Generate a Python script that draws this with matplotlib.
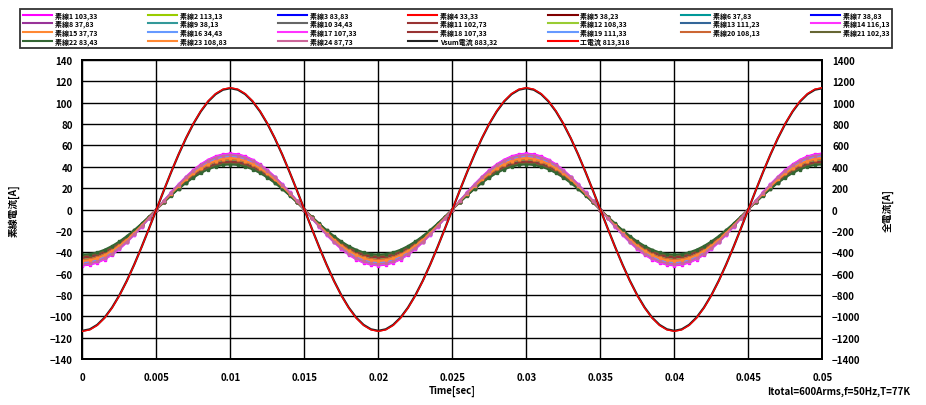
import numpy as np
import matplotlib
matplotlib.use('Agg')
import matplotlib.pyplot as plt
from matplotlib.ticker import MultipleLocator

plt.rcParams['font.family'] = ['Noto Sans CJK JP', 'DejaVu Sans']
plt.rcParams['font.weight'] = 'bold'

# legend labels, in row order as they appear in the reference
strand_labels = [
    '素線1 103,33', '素線2 113,13', '素線3 83,83', '素線4 33,33', '素線5 38,23',
    '素線6 37,83', '素線7 38,83', '素線8 37,83', '素線9 38,13', '素線10 34,43',
    '素線11 102,73', '素線12 108,33', '素線13 111,23', '素線14 116,13',
    '素線15 37,73', '素線16 34,43', '素線17 107,33', '素線18 107,33',
    '素線19 111,33', '素線20 108,13', '素線21 102,33', '素線22 83,43',
    '素線23 108,83', '素線24 87,73',
]
strand_colors = [
    '#ff00ff', '#99cc00', '#0000ff', '#ff0000', '#800000', '#009999', '#0000ff',
    '#993399', '#339999', '#666666', '#993333', '#99cc33', '#336699', '#ff33ff',
    '#ff8833', '#6699ff', '#ff33ff', '#993333', '#6699ff', '#cc6633', '#666633',
    '#336633', '#ff8833', '#cc6699',
]
# peak strand current [A]
strand_amp = [52.5, 47, 44, 48, 46, 45, 50, 51, 46, 43, 45, 47, 44, 52,
              49, 51, 50, 44, 50, 47, 43, 42, 48, 51]

total_labels = ['Vsum電流 883,32', '工電流 813,318']
total_colors = ['#222222', '#ff0000']
total_amp = [1135, 1140]   # on right axis [A]

freq = 50.0
t = np.arange(0, 0.0501, 0.0005)

fig = plt.figure(figsize=(9.26, 4.06), dpi=100)
ax = fig.add_axes([0.089, 0.113, 0.799, 0.737])
ax2 = ax.twinx()

handles = []
for lab, col, a in zip(strand_labels, strand_colors, strand_amp):
    h, = ax.plot(t, -a * np.cos(2 * np.pi * freq * t), color=col, lw=1.2,
                 marker='s', ms=1.6, label=lab, zorder=3)
    handles.append(h)
for lab, col, a, lw in zip(total_labels, total_colors, total_amp, [1.6, 1.0]):
    h, = ax2.plot(t, -a * np.cos(2 * np.pi * freq * t), color=col, lw=lw,
                  label=lab, zorder=4)
    handles.append(h)

ax.set_xlim(0, 0.05)
ax.set_ylim(-140, 140)
ax2.set_ylim(-1400, 1400)
ax.yaxis.set_major_locator(MultipleLocator(20))
ax2.yaxis.set_major_locator(MultipleLocator(200))
ax.set_xticks(np.arange(0, 0.0501, 0.005))
ax.set_xticklabels(['0', '0.005', '0.01', '0.015', '0.02', '0.025', '0.03',
                    '0.035', '0.04', '0.045', '0.05'])
ax.grid(True, color='black', lw=1.0)
ax.set_axisbelow(True)
for a_ in (ax, ax2):
    a_.tick_params(axis='y', length=0, labelsize=7, pad=7)
    for s in a_.spines.values():
        s.set_linewidth(1.3)
ax.tick_params(axis='x', length=0, labelsize=7, pad=9)

ax.set_xlabel('Time[sec]', fontsize=7, fontweight='bold', labelpad=2)
ax.set_ylabel('素線電流[A]', fontsize=7, fontweight='bold', labelpad=22)
ax2.set_ylabel('全電流[A]', fontsize=7, fontweight='bold', labelpad=16)

fig.text(0.983, 0.022, 'Itotal=600Arms,f=50Hz,T=77K', ha='right', va='bottom',
         fontsize=7, fontweight='bold')

# reorder so the legend reads row by row
ncol = 7
n = len(handles)
order = []
for c in range(ncol):
    order.extend(range(c, n, ncol))
leg = fig.legend([handles[i] for i in order], [handles[i].get_label() for i in order],
                 ncol=ncol, loc='upper left', fontsize=5, frameon=True,
                 fancybox=False, edgecolor='black', handlelength=4.2,
                 handletextpad=0.4, columnspacing=1.2, labelspacing=0.2,
                 borderpad=0.35, mode='expand',
                 bbox_to_anchor=(0.018, 0.875, 0.949, 0.11),
                 bbox_transform=fig.transFigure)
leg.get_frame().set_linewidth(1.3)
for h in leg.legend_handles:
    h.set_marker('')
    h.set_linewidth(1.5)

fig.savefig('out.png', dpi=100)
